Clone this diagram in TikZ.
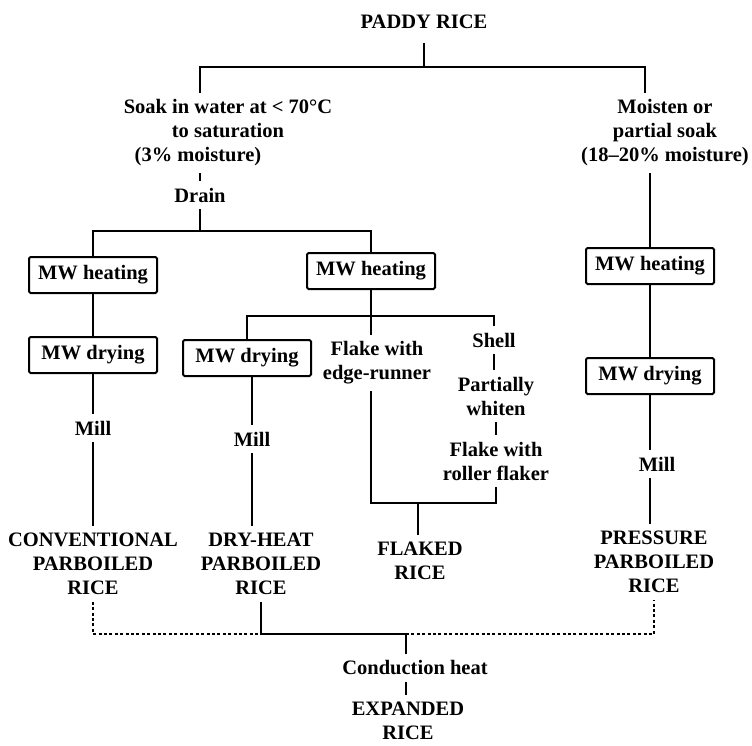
\documentclass[tikz,border=0pt]{standalone}
\usepackage{fontspec}
\setmainfont{Liberation Serif}
\newcommand{\flowfont}{\fontsize{20.5}{24}\selectfont\bfseries}
\tikzset{
  txt/.style={font=\flowfont, align=center, inner sep=1pt, outer sep=6pt},
  stage/.style={draw, line width=2pt, rounded corners=1.5pt, font=\flowfont,
    minimum width=128pt, minimum height=36pt, inner sep=1pt},
  link/.style={line width=2pt},
  maybe/.style={line width=2pt, dash pattern=on 3pt off 2.4pt}
}

\begin{document}
\begin{tikzpicture}[x=1pt,y=-1pt]
  \useasboundingbox (0,0) rectangle (752,745);

  \node[txt] (paddy) at (424,22) {PADDY RICE};
  \node[txt] (soak) at (228,133) {Soak in water at < 70°C\\
    to saturation\hspace*{60pt}\\(3\% moisture)\hspace*{60pt}};
  \node[txt] (moist) at (665,133) {Moisten or\\partial soak\\(18--20\% moisture)};
  \node[txt] (drain) at (200,195) {Drain};

  \node[stage] (heatA) at (93,275) {MW heating};
  \node[stage] (dryA) at (93,355) {MW drying};
  \node[txt] (millA) at (93,428) {Mill};
  \node[txt] (convA) at (93,564) {CONVENTIONAL\\PARBOILED\\RICE};

  \node[stage] (heatB) at (371,271) {MW heating};
  \node[stage] (dryB) at (247,358) {MW drying};
  \node[txt] (millB) at (252,439) {Mill};
  \node[txt] (dryheat) at (261,564) {DRY-HEAT\\PARBOILED\\RICE};
  \node[txt] (flakeE) at (377,363) {Flake with\\edge-runner};
  \node[txt] (shell) at (494,340) {Shell};
  \node[txt] (whiten) at (496,396) {Partially\\whiten};
  \node[txt] (roller) at (496,461) {Flake with\\roller flaker};
  \node[txt] (flaked) at (420,561) {FLAKED\\RICE};

  \node[stage] (heatC) at (650,266) {MW heating};
  \node[stage] (dryC) at (650,376) {MW drying};
  \node[txt] (millC) at (657,464) {Mill};
  \node[txt] (pressure) at (654,562) {PRESSURE\\PARBOILED\\RICE};

  \node[txt] (cond) at (415,668) {Conduction heat};
  \node[txt] (expanded) at (408,721) {EXPANDED\\RICE};

  \coordinate (t1) at (200,67);
  \coordinate (t2) at (645,67);
  \coordinate (t3) at (200,231);
  \coordinate (t4) at (371,316);
  \coordinate (t5) at (418,503);
  \coordinate (t6) at (406,634);

  \draw[link] ([yshift=-7pt]paddy.south) -- (paddy |- t1);
  \draw[link] (soak.north -| t1) |- (t2) -- (moist.north -| t2);
  \draw[link] (soak.south -| drain) -- (drain);
  \draw[link] (drain) -- (t3);
  \draw[link] (heatA) |- (t3) -| (heatB);
  \draw[link] (heatA) -- (dryA) -- (millA) -- (convA);

  \draw[link] (heatB) -- (heatB |- flakeE.north);
  \draw[link] (dryB) |- (t4) -| (shell);
  \draw[link] (dryB.south -| millB) -- (millB) -- (millB |- dryheat.north);
  \draw[link] (shell) -- (shell |- whiten.north);
  \draw[link] (whiten) -- (roller);
  \draw[link] (flakeE.south -| heatB) |- (t5) -| (roller);
  \draw[link] (t5) -- (t5 |- flaked.north);

  \draw[link] (moist.south -| heatC) -- (heatC) -- (dryC) -- (dryC |- millC.north);
  \draw[link] (millC.south -| dryC) -- (dryC |- pressure.north);

  \draw[maybe] (convA) |- (dryheat.south |- t6);
  \draw[link] (dryheat) |- (t6);
  \draw[maybe] (t6) -| (pressure);
  \draw[link] (t6) -- (t6 |- cond.north);
  \draw[link] (cond.south -| t6) -- (t6 |- expanded.north);
\end{tikzpicture}
\end{document}
